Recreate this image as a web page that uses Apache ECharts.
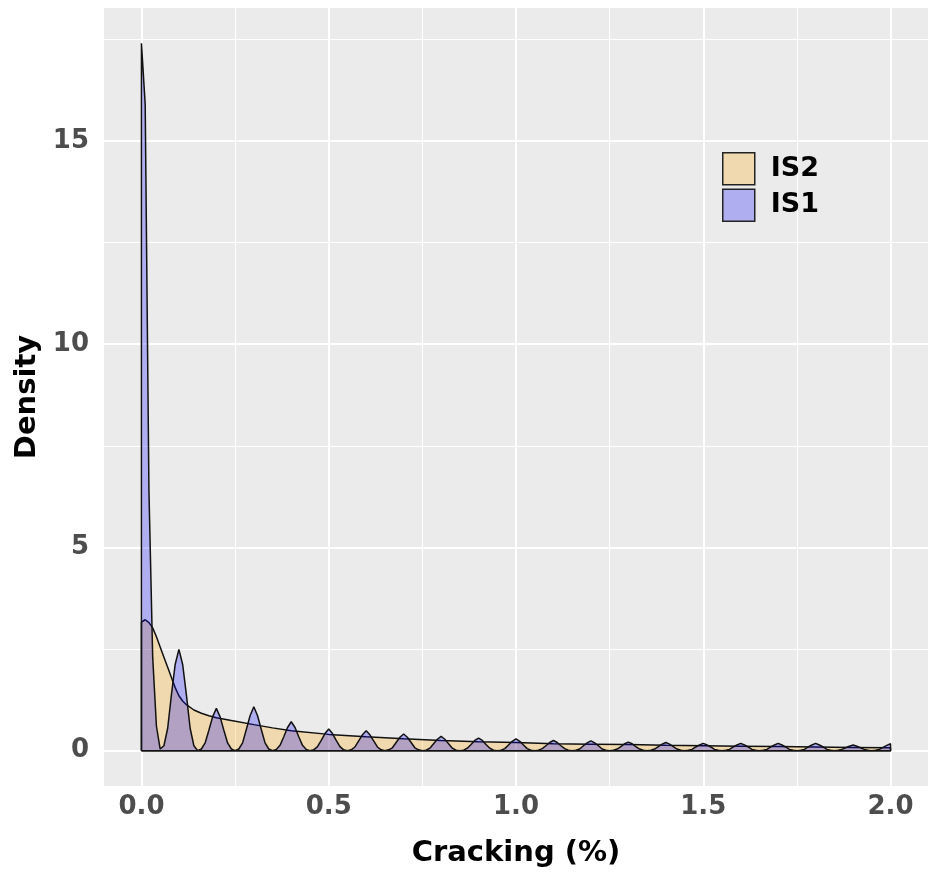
<!DOCTYPE html>
<html>
<head>
<meta charset="utf-8">
<script src="https://cdn.jsdelivr.net/npm/echarts@6.0.0/dist/echarts.min.js"></script>
<style>
  html, body { margin: 0; padding: 0; background: #fff; }
  #chart { width: 928px; height: 873px; }
</style>
</head>
<body>
<div id="chart"></div>
<script>
// tick positions
const xTicks = [0, 0.5, 1.0, 1.5, 2.0];
const xMinor = [0.25, 0.75, 1.25, 1.75];
const yTicks = [0, 5, 10, 15];
const yMinor = [2.5, 7.5, 12.5, 17.5];

// IS1 density, every 0.01 from 0.00 to 2.00
const is1Step = 0.01;
const is1Y = [
  17.4, 15.9, 6.4, 2.3, 0.6, 0.04, 0.12, 0.55, 1.37, 2.12,
  2.49, 2.12, 1.37, 0.55, 0.12, 0, 0.04, 0.19, 0.5, 0.83,
  1.04, 0.83, 0.5, 0.19, 0.04, 0, 0.04, 0.19, 0.52, 0.86,
  1.08, 0.86, 0.52, 0.19, 0.04, 0, 0.03, 0.13, 0.34, 0.57,
  0.71, 0.57, 0.34, 0.13, 0.03, 0, 0.02, 0.10, 0.25, 0.42,
  0.53, 0.42, 0.25, 0.10, 0.02, 0, 0.02, 0.09, 0.24, 0.39,
  0.49, 0.39, 0.24, 0.09, 0.02, 0, 0.02, 0.07, 0.20, 0.33,
  0.41, 0.33, 0.20, 0.07, 0.02, 0, 0.01, 0.06, 0.17, 0.28,
  0.35, 0.28, 0.17, 0.06, 0.01, 0, 0.01, 0.06, 0.15, 0.25,
  0.31, 0.25, 0.15, 0.06, 0.01, 0, 0.01, 0.05, 0.14, 0.23,
  0.29, 0.23, 0.14, 0.05, 0.01, 0, 0.01, 0.05, 0.12, 0.20,
  0.25, 0.20, 0.12, 0.05, 0.01, 0, 0.01, 0.04, 0.12, 0.19,
  0.24, 0.19, 0.12, 0.04, 0.01, 0, 0.01, 0.04, 0.10, 0.17,
  0.21, 0.17, 0.10, 0.04, 0.01, 0, 0.01, 0.04, 0.10, 0.16,
  0.20, 0.16, 0.10, 0.04, 0.01, 0, 0.01, 0.03, 0.09, 0.14,
  0.18, 0.14, 0.09, 0.03, 0.01, 0, 0.01, 0.03, 0.09, 0.14,
  0.18, 0.14, 0.09, 0.03, 0.01, 0, 0.01, 0.03, 0.09, 0.14,
  0.18, 0.14, 0.09, 0.03, 0.01, 0, 0.01, 0.03, 0.09, 0.14,
  0.18, 0.14, 0.09, 0.03, 0.01, 0, 0.01, 0.03, 0.07, 0.11,
  0.14, 0.11, 0.07, 0.03, 0.01, 0, 0.01, 0.03, 0.08, 0.13,
  0.17
];

// IS2 density (smooth curve)
const is2X = [0, 0.01, 0.02, 0.03, 0.04, 0.05, 0.06, 0.07, 0.08, 0.09, 0.10, 0.11, 0.12, 0.14, 0.16, 0.18, 0.20, 0.24, 0.30, 0.35,
  0.40, 0.50, 0.60, 0.70, 0.80, 0.90, 1.00, 1.10, 1.20, 1.30, 1.40, 1.50, 1.60, 1.70, 1.80, 1.90, 2.00];
const is2Y = [3.16, 3.22, 3.15, 3.02, 2.80, 2.55, 2.30, 2.05, 1.80, 1.55, 1.35, 1.22, 1.13, 1.00, 0.92, 0.86, 0.81, 0.74, 0.64, 0.56,
  0.49, 0.40, 0.34, 0.29, 0.25, 0.22, 0.20, 0.17, 0.16, 0.15, 0.13, 0.12, 0.11, 0.10, 0.09, 0.08, 0.07];

const fontFam = '"DejaVu Sans", Arial, sans-serif';

// closed outline: up the left edge, along the curve, down the right edge, back on the base
function outline(xs, ys) {
  const pts = [[xs[0], 0]];
  xs.forEach((x, i) => pts.push([x, ys[i]]));
  pts.push([xs[xs.length - 1], 0]);
  pts.push([xs[0], 0]);
  return pts;
}

const is1X = is1Y.map((v, i) => +(i * is1Step).toFixed(2));

const gridLines = [];
yTicks.forEach(v => gridLines.push({ yAxis: v, lineStyle: { width: 2 } }));
yMinor.forEach(v => gridLines.push({ yAxis: v, lineStyle: { width: 1 } }));
xTicks.forEach(v => gridLines.push({ xAxis: v, lineStyle: { width: 2 } }));
xMinor.forEach(v => gridLines.push({ xAxis: v, lineStyle: { width: 1 } }));

const chart = echarts.init(document.getElementById('chart'));

const option = {
  animation: false,
  backgroundColor: '#fff',
  grid: {
    left: 104,
    top: 8,
    width: 831,
    height: 778,
    show: true,
    backgroundColor: '#EBEBEB',
    borderWidth: 0
  },
  legend: {
    orient: 'vertical',
    left: 722,
    top: 152,
    padding: 0,
    icon: 'rect',
    itemWidth: 32,
    itemHeight: 32,
    itemGap: 3,
    data: ['IS2', 'IS1'],
    itemStyle: { borderColor: '#222', borderWidth: 1.5 },
    textStyle: { fontSize: 27, fontWeight: 'bold', color: '#000', fontFamily: fontFam, lineHeight: 32, padding: [0, 0, 0, 11] }
  },
  xAxis: {
    type: 'value',
    min: -0.1,
    max: 2.1,
    splitLine: { show: false },
    axisLine: { show: false },
    axisTick: { show: true, customValues: xTicks, length: 5, lineStyle: { color: '#333', width: 1.5 } },
    axisLabel: {
      customValues: xTicks,
      formatter: v => v.toFixed(1),
      fontSize: 26, fontWeight: 'bold', color: '#4D4D4D', fontFamily: fontFam, margin: 8
    },
    name: 'Cracking (%)',
    nameLocation: 'middle',
    nameGap: 53,
    nameTextStyle: { fontSize: 29, fontWeight: 'bold', color: '#000', fontFamily: fontFam }
  },
  yAxis: {
    type: 'value',
    min: -0.87,
    max: 18.27,
    splitLine: { show: false },
    axisLine: { show: false },
    axisTick: { show: true, customValues: yTicks, length: 5, lineStyle: { color: '#333', width: 1.5 } },
    axisLabel: {
      customValues: yTicks,
      fontSize: 26, fontWeight: 'bold', color: '#4D4D4D', fontFamily: fontFam, margin: 15
    },
    name: 'Density',
    nameLocation: 'middle',
    nameRotate: 90,
    nameGap: 56,
    nameTextStyle: { fontSize: 29, fontWeight: 'bold', color: '#000', fontFamily: fontFam }
  },
  series: [
    {
      name: 'gridlines',
      type: 'line',
      data: [],
      z: 1,
      silent: true,
      markLine: {
        z: 1,
        silent: true,
        symbol: ['none', 'none'],
        label: { show: false },
        lineStyle: { color: '#fff', type: 'solid' },
        data: gridLines
      }
    },
    {
      name: 'IS2',
      type: 'line',
      z: 3,
      data: outline(is2X, is2Y),
      showSymbol: false,
      symbol: 'none',
      color: 'rgba(255,165,0,0.26)',
      lineStyle: { color: '#111', width: 1.5 },
      areaStyle: { color: 'rgba(255,165,0,0.26)', origin: 0, opacity: 1 }
    },
    {
      name: 'IS1',
      type: 'line',
      z: 4,
      data: outline(is1X, is1Y),
      showSymbol: false,
      symbol: 'none',
      color: 'rgba(0,0,255,0.26)',
      lineStyle: { color: '#111', width: 1.5 },
      areaStyle: { color: 'rgba(0,0,255,0.26)', origin: 0, opacity: 1 }
    }
  ]
};

chart.setOption(option);
</script>
</body>
</html>
